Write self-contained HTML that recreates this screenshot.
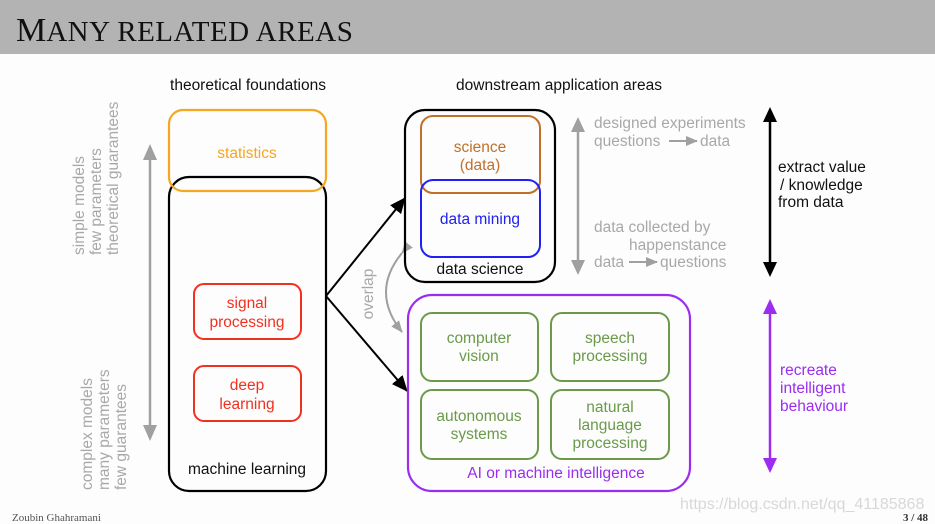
<!DOCTYPE html>
<html><head><meta charset="utf-8"><style>
html,body{margin:0;padding:0;width:935px;height:524px;overflow:hidden;background:#fdfdfd}
svg{display:block}
text{font-family:"Liberation Sans",sans-serif;font-size:15.5px}
</style></head><body>
<svg width="935" height="524" viewBox="0 0 935 524">
<defs>
<marker id="abig" markerWidth="16" markerHeight="14" refX="15" refY="7" orient="auto" markerUnits="userSpaceOnUse"><path d="M0,0 L16,7 L0,14 z" fill="#000"/></marker>
<marker id="ags" markerWidth="12" markerHeight="10" refX="11" refY="5" orient="auto" markerUnits="userSpaceOnUse"><path d="M0,0 L12,5 L0,10 z" fill="#a0a0a0"/></marker>
</defs>
<rect x="0" y="0" width="935" height="54" fill="#b3b3b3"/>
<text x="16" y="41" style="font-family:'Liberation Serif',serif;font-size:34px" fill="#111">M<tspan style="font-size:29px" letter-spacing="0.5">ANY RELATED AREAS</tspan></text>

<text x="248" y="90" text-anchor="middle" fill="#111">theoretical foundations</text>
<text x="559" y="90" text-anchor="middle" fill="#111">downstream application areas</text>

<g fill="#a8a8a8">
<text transform="translate(84,255) rotate(-90)">simple models</text>
<text transform="translate(101,255) rotate(-90)">few parameters</text>
<text transform="translate(118,255) rotate(-90)">theoretical guarantees</text>
<text transform="translate(92,490) rotate(-90)">complex models</text>
<text transform="translate(109,490) rotate(-90)">many parameters</text>
<text transform="translate(126,490) rotate(-90)">few guarantees</text>
</g>
<line x1="150" y1="158" x2="150" y2="427" stroke="#a0a0a0" stroke-width="2.5"/>
<path d="M143,160 L150,144 L157,160 z M143,425 L150,441 L157,425 z" fill="#a0a0a0"/>

<rect x="169" y="177" width="157" height="314" rx="20" fill="none" stroke="#000" stroke-width="2.2"/>
<rect x="169" y="110" width="157" height="81" rx="14" fill="none" stroke="#f5a623" stroke-width="2.2"/>
<text x="247" y="158" text-anchor="middle" fill="#f5a623">statistics</text>
<rect x="194" y="284" width="107" height="55" rx="10" fill="none" stroke="#f23020" stroke-width="2"/>
<text x="247" y="308" text-anchor="middle" fill="#f23020">signal</text>
<text x="247" y="327" text-anchor="middle" fill="#f23020">processing</text>
<rect x="194" y="366" width="107" height="55" rx="10" fill="none" stroke="#f23020" stroke-width="2"/>
<text x="247" y="390" text-anchor="middle" fill="#f23020">deep</text>
<text x="247" y="409" text-anchor="middle" fill="#f23020">learning</text>
<text x="247" y="474" text-anchor="middle" fill="#111">machine learning</text>

<line x1="326" y1="296" x2="405" y2="198" stroke="#000" stroke-width="2" marker-end="url(#abig)"/>
<line x1="326" y1="296" x2="407" y2="391" stroke="#000" stroke-width="2" marker-end="url(#abig)"/>
<path d="M402,253 Q370,292 402,332" fill="none" stroke="#a0a0a0" stroke-width="2" marker-start="url(#ags)" marker-end="url(#ags)"/>
<text transform="translate(373,294) rotate(-90)" text-anchor="middle" fill="#a8a8a8">overlap</text>

<rect x="405" y="110" width="150" height="172" rx="20" fill="none" stroke="#000" stroke-width="2.2"/>
<rect x="421" y="116" width="119" height="77" rx="12" fill="none" stroke="#c0702a" stroke-width="2"/>
<rect x="421" y="180" width="119" height="77" rx="12" fill="none" stroke="#2020f0" stroke-width="2"/>
<text x="480" y="152" text-anchor="middle" fill="#c0702a">science</text>
<text x="480" y="170" text-anchor="middle" fill="#c0702a">(data)</text>
<text x="480" y="224" text-anchor="middle" fill="#2020f0">data mining</text>
<text x="480" y="274" text-anchor="middle" fill="#111">data science</text>

<line x1="578" y1="130" x2="578" y2="262" stroke="#a0a0a0" stroke-width="2.5"/>
<path d="M571,132 L578,117 L585,132 z M571,260 L578,275 L585,260 z" fill="#a0a0a0"/>
<g fill="#a8a8a8">
<text x="594" y="128">designed experiments</text>
<text x="594" y="146">questions</text>
<text x="700" y="146">data</text>
<text x="594" y="232">data collected by</text>
<text x="629" y="250">happenstance</text>
<text x="594" y="267">data</text>
<text x="660" y="267">questions</text>
</g>
<line x1="669" y1="141" x2="697" y2="141" stroke="#a0a0a0" stroke-width="2" marker-end="url(#ags)"/>
<line x1="629" y1="262" x2="657" y2="262" stroke="#a0a0a0" stroke-width="2" marker-end="url(#ags)"/>

<line x1="770" y1="120" x2="770" y2="264" stroke="#000" stroke-width="2.5"/>
<path d="M763,122 L770,107 L777,122 z M763,262 L770,277 L777,262 z" fill="#000"/>
<text x="778" y="172" fill="#111">extract value</text>
<text x="780" y="190" fill="#111">/ knowledge</text>
<text x="778" y="207" fill="#111">from data</text>

<rect x="408" y="295" width="282" height="196" rx="24" fill="none" stroke="#9b2cf0" stroke-width="2.2"/>
<g fill="none" stroke="#6a9a4a" stroke-width="2">
<rect x="421" y="313" width="117" height="68" rx="11"/>
<rect x="551" y="313" width="118" height="68" rx="11"/>
<rect x="421" y="390" width="117" height="69" rx="11"/>
<rect x="551" y="390" width="118" height="69" rx="11"/>
</g>
<g fill="#6a9a4a" text-anchor="middle">
<text x="479" y="343">computer</text>
<text x="479" y="361">vision</text>
<text x="610" y="343">speech</text>
<text x="610" y="361">processing</text>
<text x="479" y="421">autonomous</text>
<text x="479" y="439">systems</text>
<text x="610" y="412">natural</text>
<text x="610" y="430">language</text>
<text x="610" y="448">processing</text>
</g>
<text x="556" y="478" text-anchor="middle" fill="#9b2cf0">AI or machine intelligence</text>

<line x1="770" y1="312" x2="770" y2="460" stroke="#9b2cf0" stroke-width="2.5"/>
<path d="M763,314 L770,299 L777,314 z M763,458 L770,473 L777,458 z" fill="#9b2cf0"/>
<g fill="#9b2cf0">
<text x="780" y="375">recreate</text>
<text x="780" y="393">intelligent</text>
<text x="780" y="411">behaviour</text>
</g>

<text x="680" y="509" fill="#d8d8d8" style="font-size:16px">https://blog.csdn.net/qq_41185868</text>
<text x="12" y="521" style="font-family:'Liberation Serif',serif;font-size:11px" fill="#555">Zoubin Ghahramani</text>
<text x="928" y="521" text-anchor="end" style="font-family:'Liberation Serif',serif;font-size:11px;font-weight:bold" fill="#333">3 / 48</text>
</svg>
</body></html>
